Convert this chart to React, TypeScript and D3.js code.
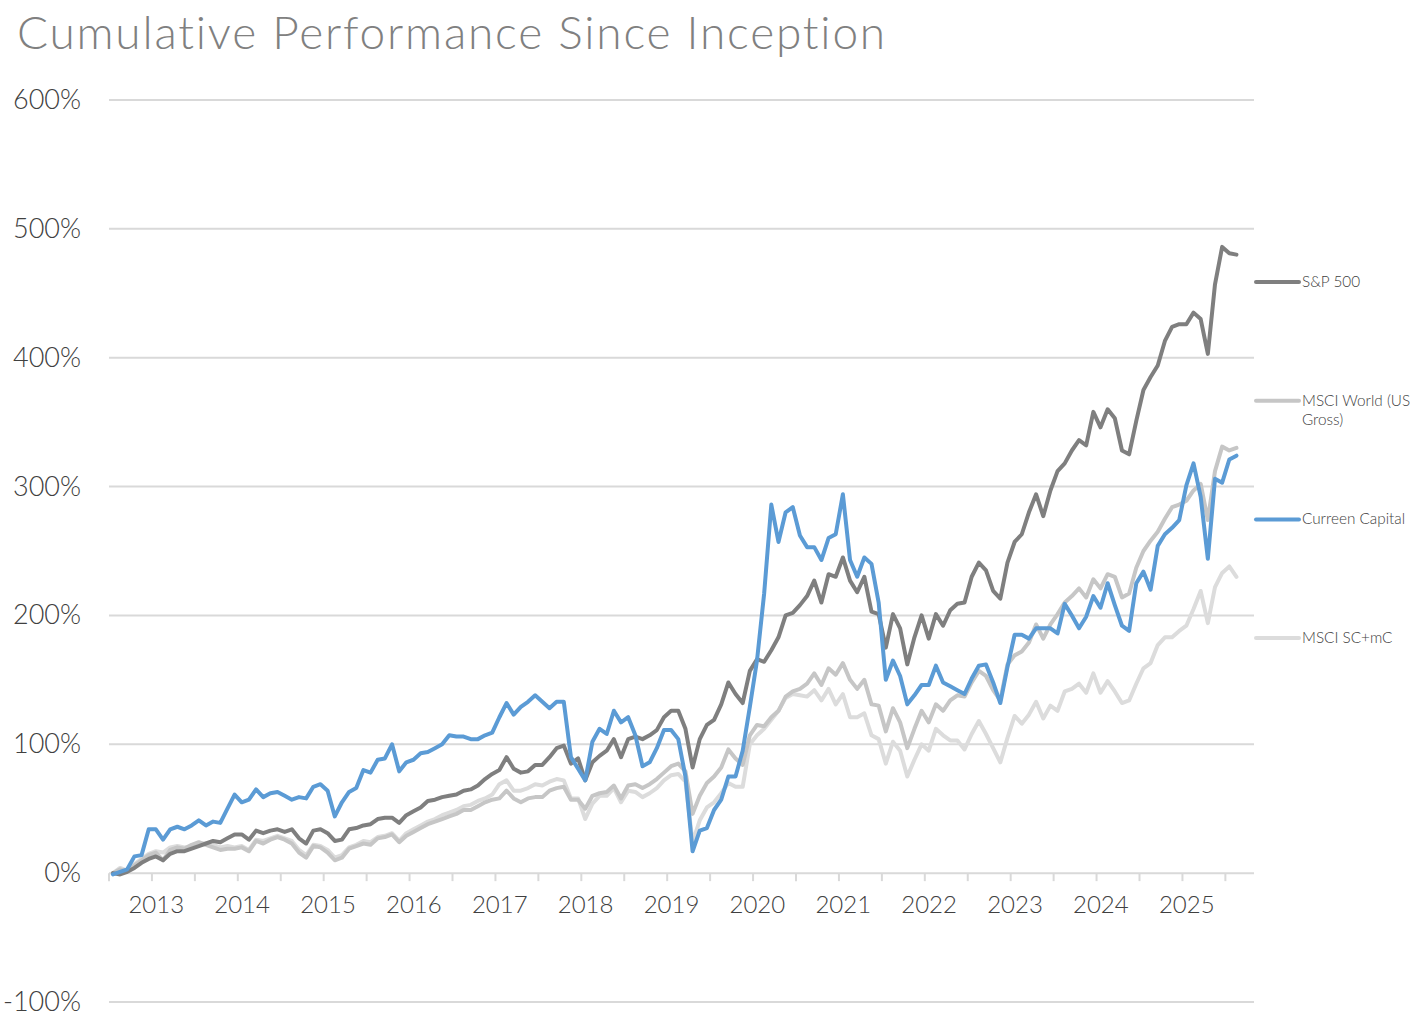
import React from 'react';
import * as d3 from 'd3';

// ---------- data (cumulative %, monthly from mid-2012) ----------
const yearLabels = ['2013', '2014', '2015', '2016', '2017', '2018', '2019', '2020', '2021', '2022', '2023', '2024', '2025'];
const yTickValues = [-100, 0, 100, 200, 300, 400, 500, 600];

const sp500 = [
  0, -1, 1, 4, 8, 11, 13, 10, 15, 17,
  17, 19, 21, 23, 25, 24, 27, 30, 30, 26,
  33, 31, 33, 34, 32, 34, 27, 23, 33, 34,
  31, 25, 26, 34, 35, 37, 38, 42, 43, 43,
  39, 45, 48, 51, 56, 57, 59, 60, 61, 64,
  65, 68, 73, 77, 80, 90, 81, 78, 79, 84,
  84, 90, 97, 99, 85, 89, 72, 86, 91, 95,
  104, 90, 104, 106, 104, 107, 111, 121, 126, 126,
  112, 82, 104, 115, 119, 131, 148, 139, 132, 157,
  166, 164, 173, 183, 200, 202, 208, 215, 227, 210,
  232, 230, 245, 227, 218, 230, 203, 201, 175, 201,
  190, 162, 183, 200, 182, 201, 192, 204, 209, 210,
  230, 241, 235, 219, 213, 241, 257, 263, 280, 294,
  277, 297, 312, 318, 328, 336, 332, 358, 346, 360,
  353, 328, 325, 351, 375, 385, 394, 413, 424, 426,
  426, 435, 430, 403, 457, 486, 481, 480,
];

const msciWorld = [
  0, 3, 1, 6, 10, 14, 16, 10, 18, 20,
  19, 22, 24, 22, 20, 18, 19, 19, 20, 17,
  25, 23, 26, 28, 26, 23, 16, 12,
  21, 20, 16, 10, 12, 19, 21, 23, 22, 27,
  28, 30, 24, 29, 32, 35, 38, 40, 42, 44,
  46, 49, 49, 52, 55, 57, 58, 64, 58, 55,
  58, 59, 59, 64, 66, 67, 57, 57, 50, 60,
  62, 63, 68, 58, 68, 69, 66, 69, 73, 78,
  83, 85, 79, 46, 60, 70, 75, 82, 96, 89,
  84, 107, 115, 114, 121, 126, 137, 141, 143, 147,
  155, 146, 159, 154, 163, 150, 143, 150, 131, 130,
  110, 128, 117, 97, 112, 126, 117, 131, 126, 134,
  138, 137, 148, 157, 153, 142, 134, 162, 169, 172,
  179, 193, 182, 193, 201, 210, 215, 221, 214, 228,
  221, 232, 230, 214, 217, 237, 250, 258, 265, 275,
  284, 286, 289, 297, 302, 274, 312, 331, 328, 330,
];

const curreen = [
  -1, 1, 3, 13, 14, 34, 34, 26, 34, 36,
  34, 37, 41, 37, 40, 39, 50, 61, 55, 57,
  65, 59, 62, 63, 60, 57, 59, 58, 67, 69,
  64, 44, 55, 63, 66, 80, 78, 88, 89, 100,
  79, 86, 88, 93, 94, 97, 100, 107, 106, 106,
  104, 104, 107, 109, 121, 132, 123, 129, 133, 138,
  133, 128, 133, 133, 90, 81, 72, 102, 112, 108,
  126, 117, 121, 107, 83, 86, 97, 111, 111, 104,
  75, 17, 33, 35, 49, 57, 75, 75, 95, 129,
  165, 217, 286, 257, 280, 284, 262, 253, 253, 243,
  260, 263, 294, 243, 230, 245, 240, 210, 150, 165,
  153, 131, 138, 146, 146, 161, 148, 145, 142, 139,
  151, 161, 162, 148, 132, 160, 185, 185, 182, 190,
  190, 190, 186, 209, 200, 190, 199, 215, 206, 225,
  208, 192, 188, 225, 234, 220, 254, 263, 268, 274,
  301, 318, 292, 244, 306, 303, 321, 324,
];

const msciSC = [
  0, 4, 2, 7, 11, 15, 17, 16, 20, 21,
  20, 21, 23, 23, 22, 20, 21, 20, 21, 18,
  26, 25, 27, 29, 27, 25, 18, 14,
  22, 21, 18, 12, 14, 20, 22, 25, 24, 28,
  29, 31, 25, 31, 34, 37, 40, 42, 45, 47,
  49, 52, 53, 56, 58, 61, 69, 72, 64, 64,
  66, 69, 68, 71, 73, 72, 58, 58, 42, 54,
  60, 60, 66, 55, 64, 63, 59, 62, 66, 72,
  76, 77, 71, 24, 41, 51, 55, 62, 70, 67,
  67, 100, 107, 112, 119, 126, 136, 139, 138, 137,
  142, 134, 143, 131, 139, 121, 121, 124, 107, 104,
  85, 102, 95, 75, 88, 100, 95, 112, 107, 103,
  103, 96, 108, 118, 108, 97, 86, 105, 122, 116,
  123, 133, 120, 130, 126, 141, 143, 147, 140, 155,
  140, 149, 141, 132, 134, 147, 159, 163, 177, 183,
  183, 188, 192, 205, 219, 194, 222, 233, 238, 230,
];

const seriesNames = ['S&P 500', 'MSCI World (US Gross)', 'Curreen Capital', 'MSCI SC+mC'];
const seriesData = [sp500, msciWorld, curreen, msciSC];
const seriesColors = ['#7f7f7f', '#c6c6c6', '#5b9bd5', '#dcdcdc'];
const drawOrder = [3, 1, 0, 2];

const FONT = "Lato, 'Open Sans', sans-serif";

export default function App() {
  const W = 1420;
  const H = 1030;
  const x = d3.scaleLinear().domain([0, 160]).range([109, 1254]);
  const y = d3.scaleLinear().domain([-100, 600]).range([1002, 100]);
  const line = d3
    .line<number>()
    .x((_, i) => x(i + 0.55))
    .y((d) => y(d));

  const monthTicks = d3.range(0, 157, 6);

  const legendLines = (name: string): string[] =>
    name === 'MSCI World (US Gross)' ? ['MSCI World (US', 'Gross)'] : [name];

  return (
    <svg
      width={W}
      height={H}
      viewBox={`0 0 ${W} ${H}`}
      style={{ position: 'absolute', left: 0, top: 0, background: '#fff' }}
      fontFamily={FONT}
    >
      <text x={17} y={49} fontSize={46} fontWeight={300} fill="#808080" letterSpacing={1.8}>
        Cumulative Performance Since Inception
      </text>

      {/* grid */}
      {yTickValues.map((v) => (
        <line key={v} x1={109} x2={1254} y1={y(v)} y2={y(v)} stroke="#d9d9d9" strokeWidth={2} />
      ))}
      {yTickValues.map((v) => (
        <text key={'l' + v} x={81} y={y(v) + 9} fontSize={27} fontWeight={300} fill="#404040" textAnchor="end">
          {v}%
        </text>
      ))}

      {/* x axis ticks */}
      {monthTicks.map((m) => (
        <line key={m} x1={x(m)} x2={x(m)} y1={y(0)} y2={y(0) + 8} stroke="#d9d9d9" strokeWidth={2} />
      ))}
      {yearLabels.map((lab, k) => (
        <text key={lab} x={x(6.6 + 12 * k)} y={913} fontSize={24} fontWeight={300} fill="#404040" textAnchor="middle">
          {lab}
        </text>
      ))}

      {/* series */}
      {drawOrder.map((s) => (
        <path
          key={seriesNames[s]}
          d={line(seriesData[s]) || ''}
          fill="none"
          stroke={seriesColors[s]}
          strokeWidth={4}
          strokeLinejoin="round"
          strokeLinecap="round"
        />
      ))}

      {/* legend */}
      {seriesNames.map((name, k) => {
        const ly = 282 + k * 118.7;
        return (
          <g key={'lg' + name}>
            <line x1={1256} x2={1299} y1={ly} y2={ly} stroke={seriesColors[k]} strokeWidth={4} strokeLinecap="round" />
            <text x={1302} y={ly + 5} fontSize={15.3} fontWeight={300} fill="#404040">
              {legendLines(name).map((t, j) => (
                <tspan key={j} x={1302} dy={j === 0 ? 0 : 19}>
                  {t}
                </tspan>
              ))}
            </text>
          </g>
        );
      })}
    </svg>
  );
}
